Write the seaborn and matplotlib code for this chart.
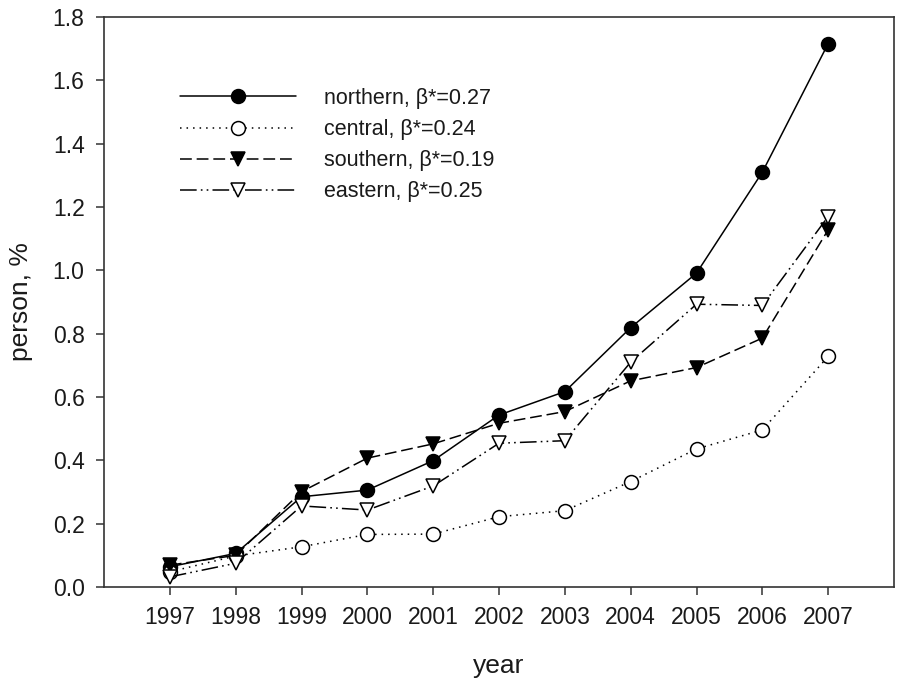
import matplotlib
matplotlib.use("Agg")
import matplotlib.pyplot as plt
import numpy as np
import pandas as pd
import seaborn as sns

# Share of persons (%) by region, 1997-2007
years = [1997, 1998, 1999, 2000, 2001, 2002, 2003, 2004, 2005, 2006, 2007]
northern = [0.064, 0.106, 0.285, 0.306, 0.399, 0.543, 0.617, 0.819, 0.991, 1.310, 1.716]
central = [0.048, 0.098, 0.127, 0.166, 0.167, 0.222, 0.241, 0.333, 0.436, 0.496, 0.728]
southern = [0.069, 0.100, 0.301, 0.407, 0.452, 0.517, 0.554, 0.651, 0.693, 0.786, 1.128]
eastern = [0.032, 0.075, 0.256, 0.243, 0.319, 0.454, 0.462, 0.710, 0.893, 0.889, 1.170]

regions = ["northern", "central", "southern", "eastern"]
labels = ["northern, β*=0.27", "central, β*=0.24",
          "southern, β*=0.19", "eastern, β*=0.25"]
yticks = [0.0, 0.2, 0.4, 0.6, 0.8, 1.0, 1.2, 1.4, 1.6, 1.8]

df = pd.DataFrame({
    "year": years * 4,
    "value": northern + central + southern + eastern,
    "region": np.repeat(regions, len(years)),
})

sns.set_style("ticks")
plt.rcParams["font.family"] = ["Liberation Sans", "DejaVu Sans"]
plt.rcParams["lines.scale_dashes"] = False

# line / marker styling per region
styles = {
    "northern": dict(linestyle="-", marker="o", markerfacecolor="black"),
    "central": dict(linestyle=(0, (1.1, 3.6)), marker="o", markerfacecolor="white"),
    "southern": dict(linestyle=(0, (8.5, 3.5)), marker="v", markerfacecolor="black"),
    "eastern": dict(linestyle=(0, (12, 3, 1.2, 3, 1.2, 3)), marker="v",
                    markerfacecolor="white"),
}

fig = plt.figure(figsize=(8.99, 6.82), dpi=100)
ax = fig.add_axes([104 / 899, 1 - 587 / 682, 790 / 899, 570 / 682])

for region, label in zip(regions, labels):
    sns.lineplot(
        data=df[df["region"] == region], x="year", y="value", ax=ax,
        color="black", linewidth=1.1, markersize=10,
        markeredgecolor="black", markeredgewidth=1.1,
        errorbar=None, label=label, clip_on=False, zorder=3,
        **styles[region],
    )

ax.set_xlim(1996, 2008)
ax.set_ylim(0, 1.8)
ax.set_xticks(years)
ax.set_xticklabels([str(y) for y in years])
ax.set_yticks(yticks)
ax.set_yticklabels([f"{v:.1f}" for v in yticks])

for side in ["left", "right", "top", "bottom"]:
    ax.spines[side].set_visible(True)
    ax.spines[side].set_linewidth(1.2)
    ax.spines[side].set_color("#333333")

ax.tick_params(axis="both", direction="out", length=6, width=1.1,
               color="#333333", labelsize=16.5, labelcolor="#1a1a1a", pad=8)
ax.tick_params(top=False, right=False)

ax.set_xlabel("year", fontsize=19, color="#1a1a1a", labelpad=18)
ax.set_ylabel("person, %", fontsize=19, color="#1a1a1a", labelpad=14)

leg = ax.legend(
    loc="upper left", bbox_to_anchor=(76 / 790, 1 - 71 / 570),
    frameon=False, fontsize=15.5, handlelength=5.4, handletextpad=1.3,
    labelspacing=0.47, borderpad=0, borderaxespad=0, numpoints=1,
)
for t in leg.get_texts():
    t.set_color("#1a1a1a")

fig.savefig("out.png", dpi=100, facecolor="white")
